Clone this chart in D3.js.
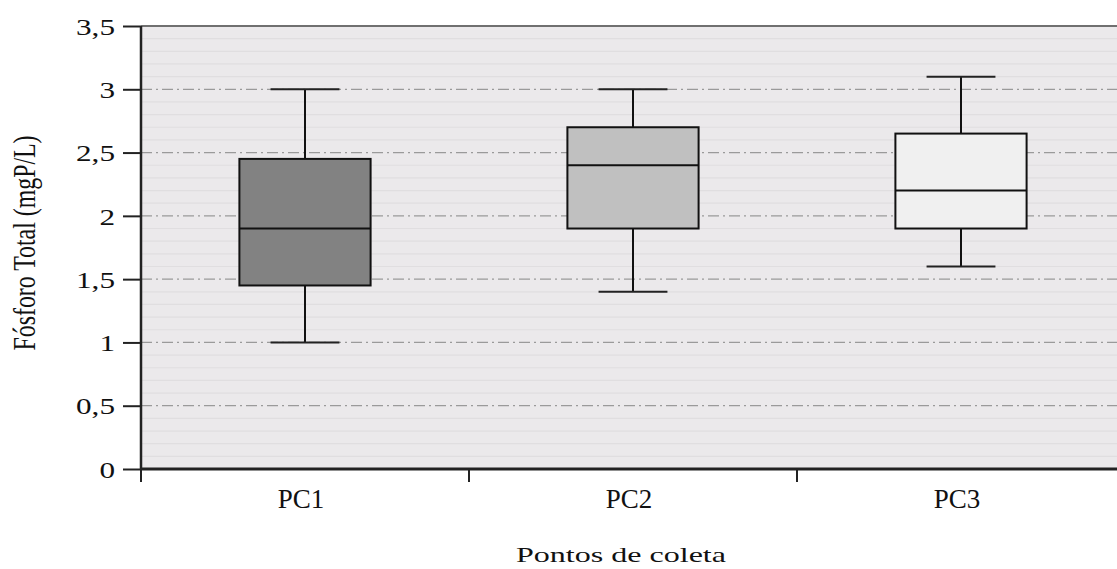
<!DOCTYPE html>
<html><head><meta charset="utf-8">
<script src="https://cdn.jsdelivr.net/npm/d3@7"></script>
<style>body{margin:0;background:#fff}svg{display:block}text{font-family:"Liberation Serif","DejaVu Serif",serif;fill:#111}</style>
</head><body><svg id="c" width="1117" height="569"></svg>
<script>
const categories = ["PC1", "PC2", "PC3"];
const maxVals    = [3.0, 3.0, 3.1];
const q3Vals     = [2.45, 2.7, 2.65];
const medianVals = [1.9, 2.4, 2.2];
const q1Vals     = [1.45, 1.9, 1.9];
const minVals    = [1.0, 1.4, 1.6];
const boxColors  = ["#828282", "#c0c0c0", "#f0f0f0"];
const yTicks = [0, 0.5, 1, 1.5, 2, 2.5, 3, 3.5];
const yTickLabels = ["0", "0,5", "1", "1,5", "2", "2,5", "3", "3,5"];
const yTitle = "Fósforo Total (mgP/L)";
const xTitle = "Pontos de coleta";

const data = categories.map((c, i) => ({c, max: maxVals[i], q3: q3Vals[i], med: medianVals[i], q1: q1Vals[i], min: minVals[i], color: boxColors[i]}));

const svg = d3.select("#c");
const L = 141, R = 1125, T = 26, B = 469, W = 1117;
const x = d3.scaleBand().domain(categories).range([L, R]).padding(0);
const y = d3.scaleLinear().domain([0, 3.5]).range([B, T]);

// background
svg.append("rect").attr("x", L).attr("y", T).attr("width", W - L).attr("height", B - T).attr("fill", "#ebe9eb");
// minor lines
const minor = d3.range(1, 35).map(d => d / 10).filter(d => Math.abs(d * 2 - Math.round(d * 2)) > 1e-6);
svg.append("g").selectAll("line").data(minor).join("line")
  .attr("x1", L).attr("x2", W).attr("y1", d => y(d)).attr("y2", d => y(d))
  .attr("stroke", "#e0dee0").attr("stroke-width", 1.2);
// major dash-dot gridlines
svg.append("g").selectAll("line").data(yTicks.filter(d => d > 0 && d < 3.5)).join("line")
  .attr("x1", L).attr("x2", W).attr("y1", d => y(d)).attr("y2", d => y(d))
  .attr("stroke", "#9a9a9a").attr("stroke-width", 1.3).attr("stroke-dasharray", "11,4,2,4");
// top border
svg.append("line").attr("x1", L).attr("x2", W).attr("y1", T).attr("y2", T).attr("stroke", "#707070").attr("stroke-width", 2);

// boxes
const bw = x.bandwidth();
const boxW = bw * 0.40, capW = bw * 0.21;
const g = svg.append("g").selectAll("g").data(data).join("g")
  .attr("transform", d => `translate(${x(d.c) + bw / 2},0)`);
g.append("line").attr("x1", 0).attr("x2", 0).attr("y1", d => y(d.max)).attr("y2", d => y(d.min))
  .attr("stroke", "#111").attr("stroke-width", 2);
g.append("line").attr("x1", -capW / 2).attr("x2", capW / 2).attr("y1", d => y(d.max)).attr("y2", d => y(d.max))
  .attr("stroke", "#222").attr("stroke-width", 2);
g.append("line").attr("x1", -capW / 2).attr("x2", capW / 2).attr("y1", d => y(d.min)).attr("y2", d => y(d.min))
  .attr("stroke", "#222").attr("stroke-width", 2);
g.append("rect").attr("x", -boxW / 2).attr("width", boxW).attr("y", d => y(d.q3)).attr("height", d => y(d.q1) - y(d.q3))
  .attr("fill", d => d.color).attr("stroke", "#111").attr("stroke-width", 2);
g.append("line").attr("x1", -boxW / 2).attr("x2", boxW / 2).attr("y1", d => y(d.med)).attr("y2", d => y(d.med))
  .attr("stroke", "#111").attr("stroke-width", 2);

// y axis
const yAxis = d3.axisLeft(y).tickValues(yTicks).tickFormat((d, i) => yTickLabels[i]).tickSize(18).tickPadding(8);
const ya = svg.append("g").attr("transform", `translate(${L},0)`).call(yAxis);
ya.select(".domain").attr("stroke", "#222").attr("stroke-width", 2.5).attr("d", `M0,${T}V${B}`);
ya.selectAll(".tick line").attr("stroke", "#222").attr("stroke-width", 2);
ya.selectAll(".tick text").attr("font-size", 24).attr("font-family", "Liberation Serif").attr("fill", "#111")
  .attr("dy", "0.34em").attr("x", 0)
  .attr("transform", "translate(-26,0) scale(1.3,1)");

// x axis
const xAxis = d3.axisBottom(x).tickSize(0).tickPadding(0);
const xa = svg.append("g").attr("transform", `translate(0,${B})`).call(xAxis);
xa.select(".domain").attr("stroke", "#222").attr("stroke-width", 3).attr("d", `M${L},0H${W}`);
xa.selectAll(".tick text").attr("font-size", 27).attr("font-family", "Liberation Serif").attr("fill", "#111")
  .attr("y", 39).attr("dy", 0).attr("dx", -4);
// category boundary ticks
const bounds = categories.map(c => x(c));
svg.append("g").selectAll("line").data(bounds).join("line")
  .attr("x1", d => d).attr("x2", d => d).attr("y1", B).attr("y2", B + 13)
  .attr("stroke", "#222").attr("stroke-width", 2);

// titles
svg.append("text").attr("text-anchor", "middle").attr("font-size", 21)
  .attr("transform", `translate(${(L + W) / 2 - 8},562)`)
  .attr("textLength", 210).attr("lengthAdjust", "spacingAndGlyphs").text(xTitle);
svg.append("text").attr("text-anchor", "middle").attr("font-size", 22)
  .attr("transform", `translate(35,243) scale(1.4,1) rotate(-90)`)
  .attr("textLength", 215).attr("lengthAdjust", "spacingAndGlyphs").text(yTitle);
</script></body></html>
